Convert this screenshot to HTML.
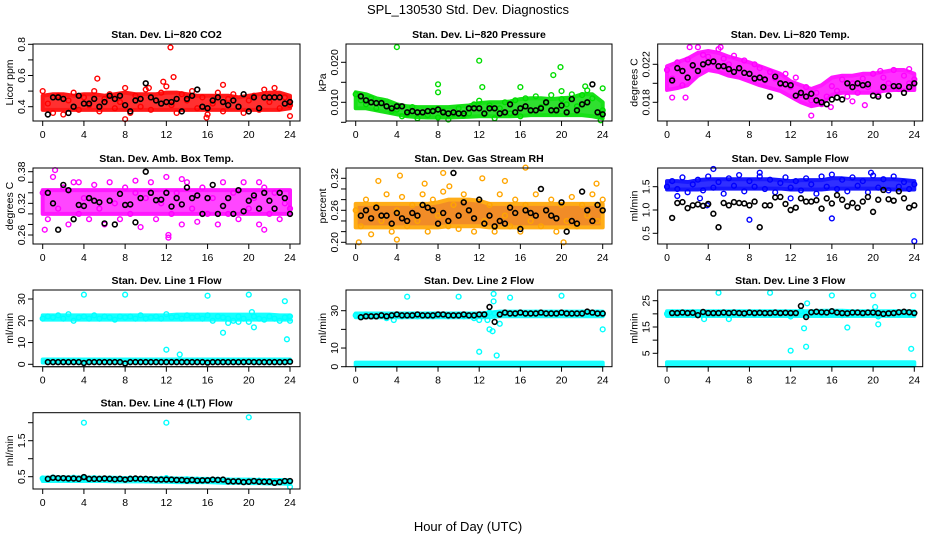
<!DOCTYPE html>
<html><head><meta charset="utf-8"><style>
html,body{margin:0;padding:0;background:#fff;}
svg{display:block;font-family:"Liberation Sans",Arial,sans-serif;}
</style></head><body>
<svg id="chart" width="936" height="540" viewBox="0 0 936 540">
<text x="468" y="14" text-anchor="middle" font-size="13">SPL_130530  Std. Dev. Diagnostics</text>
<text x="468" y="531" text-anchor="middle" font-size="13">Hour of Day (UTC)</text>
</svg>
<script>
// ---- data ----
const bandHours = [0,1,2,3,4,5,6,7,8,9,10,11,12,13,14,15,16,17,18,19,20,21,22,23,24];
const co2Lo = [0.38,0.38,0.38,0.38,0.38,0.38,0.38,0.38,0.38,0.38,0.38,0.38,0.38,0.38,0.38,0.38,0.38,0.38,0.38,0.38,0.38,0.38,0.38,0.38,0.39];
const co2Hi = [0.47,0.48,0.48,0.47,0.48,0.48,0.47,0.48,0.49,0.48,0.48,0.48,0.49,0.49,0.48,0.47,0.47,0.47,0.47,0.46,0.47,0.48,0.49,0.49,0.47];
const co2Pts = [0.50,0.42,0.36,0.47,0.35,0.44,0.49,0.38,0.46,0.41,0.50,0.37,0.45,0.48,0.39,0.43,0.52,0.36,0.47,0.40,0.51,0.38,0.44,0.49,0.53,0.41,0.36,0.48,0.44,0.50,0.39,0.46,0.35,0.42,0.49,0.37,0.45,0.48,0.40,0.36,0.44,0.47,0.38,0.51,0.43,0.52,0.39,0.46,0.41];
const co2Out = [[5.3,0.58],[12.4,0.78],[12.7,0.59],[17.5,0.54],[8,0.32],[15.9,0.33],[24,0.34],[10.3,0.52],[11.7,0.56]];
const co2Blk = [0.35,0.46,0.46,0.45,0.36,0.40,0.47,0.42,0.42,0.45,0.40,0.43,0.47,0.45,0.47,0.41,0.37,0.44,0.45,0.55,0.46,0.44,0.42,0.43,0.43,0.45,0.37,0.45,0.47,0.51,0.40,0.39,0.44,0.46,0.43,0.41,0.44,0.40,0.48,0.37,0.46,0.39,0.46,0.46,0.46,0.46,0.42,0.43];

const prsLo = [0.0085,0.0085,0.0080,0.0075,0.0070,0.0065,0.0063,0.0062,0.0062,0.0062,0.0063,0.0064,0.0065,0.0065,0.0065,0.0065,0.0066,0.0068,0.0068,0.0068,0.0068,0.0068,0.0068,0.0065,0.0060];
const prsHi = [0.0125,0.0120,0.0110,0.0105,0.0095,0.0090,0.0088,0.0088,0.0088,0.0088,0.0090,0.0092,0.0098,0.0100,0.0100,0.0102,0.0108,0.0110,0.0110,0.0108,0.0110,0.0112,0.0120,0.0120,0.0100];
const prsPts = [0.0120,0.0105,0.0095,0.0110,0.0085,0.0100,0.0090,0.0078,0.0082,0.0065,0.0070,0.0088,0.0060,0.0075,0.0068,0.0080,0.0062,0.0078,0.0057,0.0070,0.0085,0.0067,0.0072,0.0095,0.0104,0.0070,0.0092,0.0060,0.0085,0.0100,0.0072,0.0105,0.0065,0.0110,0.0078,0.0115,0.0088,0.0098,0.0118,0.0082,0.0108,0.0095,0.0120,0.0090,0.0118,0.0130,0.0110,0.0075,0.0080];
const prsOut = [[4,0.0238],[12,0.0204],[8,0.0145],[8,0.0125],[12.3,0.0138],[16,0.0138],[19.2,0.0168],[19.9,0.0188],[20,0.0128],[22.3,0.014],[24,0.0135],[23.8,0.0055]];
const prsBlk = [0.0115,0.0105,0.0100,0.0098,0.0098,0.0090,0.0085,0.0090,0.0090,0.0075,0.0078,0.0075,0.0075,0.0078,0.0078,0.0082,0.0075,0.0072,0.0075,0.0072,0.0072,0.0085,0.0085,0.0085,0.0072,0.0085,0.0085,0.0072,0.0075,0.0095,0.0075,0.0085,0.0090,0.0080,0.0080,0.0085,0.0100,0.0080,0.0080,0.0092,0.0075,0.0108,0.0080,0.0095,0.0100,0.0145,0.0075,0.0070];

const tmpLo = [0.0193,0.0195,0.0198,0.0208,0.0214,0.0212,0.0208,0.0206,0.0202,0.0198,0.0195,0.0192,0.0186,0.0180,0.0176,0.0178,0.0188,0.0190,0.0190,0.0190,0.0190,0.0192,0.0193,0.0193,0.0193];
const tmpHi = [0.0218,0.0222,0.0226,0.0232,0.0234,0.0232,0.0228,0.0225,0.0222,0.0218,0.0214,0.0210,0.0202,0.0198,0.0194,0.0198,0.0206,0.0208,0.0208,0.0210,0.0210,0.0212,0.0214,0.0214,0.0210];
const tmpPts = [0.0214,0.0205,0.0222,0.0198,0.0225,0.0218,0.0238,0.0230,0.0228,0.0222,0.0236,0.0226,0.0220,0.0229,0.0215,0.0224,0.0210,0.0220,0.0216,0.0203,0.0212,0.0205,0.0199,0.0210,0.0196,0.0206,0.0188,0.0196,0.0182,0.0190,0.0178,0.0186,0.0197,0.0192,0.0204,0.0186,0.0200,0.0190,0.0205,0.0196,0.0210,0.0188,0.0206,0.0200,0.0214,0.0194,0.0208,0.0200,0.0204];
const tmpOut = [[0.5,0.0185],[1.8,0.0185],[2.2,0.0238],[5.2,0.0238],[14,0.0166],[15.9,0.0175],[19.2,0.0177],[18,0.0181],[20.7,0.0213],[23.5,0.0215]];
const tmpBlk = [0.0203,0.0216,0.0213,0.0206,0.0219,0.0213,0.0220,0.0222,0.0223,0.0218,0.0218,0.0215,0.0212,0.0216,0.0211,0.0210,0.0205,0.0206,0.0204,0.0186,0.0207,0.0200,0.0199,0.0198,0.0187,0.0190,0.0186,0.0189,0.0182,0.0180,0.0178,0.0183,0.0185,0.0183,0.0200,0.0196,0.0200,0.0198,0.0199,0.0187,0.0186,0.0196,0.0187,0.0197,0.0197,0.0190,0.0196,0.0200];

const ambLo = [0.30,0.30,0.30,0.30,0.30,0.30,0.30,0.30,0.30,0.30,0.30,0.30,0.30,0.30,0.30,0.30,0.30,0.30,0.30,0.30,0.30,0.30,0.30,0.30,0.30];
const ambHi = [0.345,0.345,0.345,0.345,0.345,0.345,0.345,0.345,0.345,0.345,0.345,0.345,0.345,0.345,0.345,0.345,0.345,0.345,0.345,0.345,0.345,0.345,0.345,0.345,0.345];
const ambPts = [0.34,0.29,0.37,0.31,0.35,0.28,0.36,0.30,0.33,0.29,0.355,0.31,0.28,0.36,0.32,0.29,0.35,0.30,0.34,0.275,0.33,0.36,0.29,0.32,0.37,0.30,0.34,0.28,0.36,0.31,0.285,0.35,0.30,0.33,0.28,0.36,0.30,0.34,0.29,0.36,0.31,0.33,0.28,0.35,0.30,0.34,0.29,0.32,0.31];
const ambOut = [[0.2,0.27],[1.2,0.383],[12.2,0.26],[12.2,0.255],[21.5,0.27],[21,0.36],[3.5,0.36],[9,0.363],[13.5,0.366]];
const ambBlk = [0.34,0.32,0.27,0.355,0.345,0.29,0.317,0.315,0.33,0.325,0.322,0.282,0.325,0.28,0.338,0.317,0.318,0.284,0.33,0.38,0.34,0.326,0.327,0.34,0.314,0.33,0.318,0.35,0.33,0.335,0.30,0.33,0.355,0.30,0.315,0.33,0.30,0.345,0.305,0.325,0.335,0.31,0.34,0.325,0.31,0.34,0.33,0.30];

const rhLo = [0.228,0.228,0.228,0.228,0.228,0.228,0.228,0.228,0.228,0.23,0.23,0.23,0.23,0.228,0.228,0.228,0.228,0.228,0.228,0.228,0.228,0.228,0.228,0.228,0.228];
const rhHi = [0.272,0.272,0.272,0.272,0.272,0.272,0.272,0.272,0.275,0.28,0.28,0.28,0.278,0.272,0.272,0.272,0.272,0.272,0.272,0.272,0.272,0.272,0.272,0.272,0.272];
const rhPts = [0.26,0.23,0.28,0.215,0.27,0.24,0.29,0.22,0.26,0.285,0.23,0.27,0.24,0.29,0.22,0.28,0.25,0.295,0.23,0.27,0.225,0.29,0.26,0.22,0.28,0.24,0.27,0.22,0.29,0.25,0.23,0.28,0.22,0.27,0.24,0.29,0.23,0.26,0.28,0.22,0.27,0.24,0.285,0.23,0.27,0.25,0.29,0.24,0.28];
const rhOut = [[2.2,0.315],[4.3,0.325],[6.7,0.31],[8.5,0.33],[12.3,0.32],[16.5,0.34],[14.5,0.315],[23.4,0.31],[0.3,0.20],[4,0.205],[20.2,0.20],[9.1,0.305]];
const rhBlk = [0.25,0.26,0.245,0.265,0.25,0.25,0.235,0.255,0.245,0.24,0.255,0.25,0.27,0.265,0.26,0.235,0.255,0.24,0.33,0.25,0.275,0.26,0.245,0.28,0.235,0.25,0.23,0.24,0.235,0.265,0.255,0.225,0.26,0.255,0.25,0.30,0.26,0.25,0.245,0.275,0.22,0.24,0.235,0.295,0.26,0.24,0.27,0.26];

const sfLo = [1.44,1.44,1.44,1.44,1.46,1.46,1.46,1.46,1.46,1.46,1.46,1.46,1.44,1.44,1.44,1.44,1.46,1.46,1.46,1.46,1.46,1.46,1.44,1.44,1.44];
const sfHi = [1.62,1.62,1.60,1.64,1.66,1.66,1.66,1.66,1.66,1.66,1.66,1.64,1.62,1.64,1.64,1.64,1.68,1.68,1.66,1.66,1.66,1.66,1.66,1.64,1.62];
const sfPts = [1.50,1.62,1.45,1.70,1.38,1.55,1.65,1.42,1.72,1.48,1.60,1.35,1.68,1.52,1.75,1.40,1.62,1.50,1.72,1.45,1.65,1.38,1.58,1.70,1.48,1.62,1.42,1.68,1.55,1.35,1.72,1.50,1.76,1.45,1.65,1.40,1.70,1.52,1.62,1.38,1.74,1.48,1.66,1.42,1.72,1.50,1.60,1.45,1.55];
const sfOut = [[3.9,1.1],[8,0.79],[16,0.82],[24,0.33],[4.5,1.88],[9,1.8],[19.8,1.8],[12,1.25],[3.2,1.25],[1,1.3]];
const sfBlk = [0.83,1.15,1.17,1.04,1.10,1.12,1.09,1.13,0.92,0.63,1.15,1.10,1.17,1.15,1.14,1.10,1.18,0.63,1.10,1.10,1.27,1.28,1.13,1.00,1.05,1.25,1.18,1.18,1.21,1.03,1.25,1.14,1.32,1.22,1.08,1.15,1.05,1.18,1.28,0.96,1.22,1.43,1.23,1.20,1.40,1.25,1.05,1.10];

const l1Lo = [20.5,20.5,20.5,20.5,20.5,20.5,20.5,20.5,20.5,20.5,20.5,20.5,20.5,20.5,20.5,20.5,20.5,20.5,20.5,20.5,20.5,20.5,20.5,20.5,20.5];
const l1Hi = [22.5,22.5,22.5,22.5,22.5,22.5,22.5,22.5,22.5,22.5,22.5,22.5,22.5,22.8,22.8,22.8,22.8,22.8,22.8,22.8,22.8,22.8,22.8,22.5,22.5];
const l1LowLo = [0.8,0.8,0.8,0.8,0.8,0.8,0.8,0.8,0.8,0.8,0.8,0.8,0.8,0.8,0.8,0.8,0.8,0.8,0.8,0.8,0.8,0.8,0.8,0.8,0.8];
const l1LowHi = [2.2,2.2,2.2,2.2,2.2,2.2,2.2,2.2,2.2,2.2,2.2,2.2,2.2,2.2,2.2,2.2,2.2,2.2,2.2,2.2,2.2,2.2,2.2,2.2,2.2];
const l1Pts = [21,22,21.5,22.5,21,23,20,21.5,22,21,22.5,21,22,21.5,20.5,22,21.5,22,21,22.5,21,21.5,22,21,23,21.5,22,21,22.5,21.5,22,21,22.5,20,22,21.5,21,20,22,21,19.5,22,21,20.5,22,21,20,21.5,22];
const l1Out = [[4,32],[8,32],[16,31.5],[20,32],[23.5,29],[23.7,11.5],[12,6.7],[13.3,4.5],[17.5,14.5],[20.5,17],[20.3,24],[24,20],[18,19],[19,19.5]];
const l1Blk = [1,1,1,1,1,1,1,0.6,1,1,1,1,1,1,1,0.4,1,1,1,1,1,1,1,1,1,1,1,1,1,1,1,0.8,1,1,1,1,1,1,1,1.1,1,1,1,1,1,1,1,1.2];

const l2Lo = [26.5,26.5,26.5,26.5,26.5,26.5,26.5,26.5,26.5,26.5,26.5,26.5,26.5,26.5,27,27,27,27,27,27,27,27,27,27,27];
const l2Hi = [28.5,28.5,28.5,28.5,28.5,28.5,28.5,28.5,28.5,28.5,28.5,28.5,28.5,29,29.5,29.5,29.5,29.5,29.5,29.5,29.5,29.5,29.5,29.5,29.5];
const l2LowLo = [0.5,0.5,0.5,0.5,0.5,0.5,0.5,0.5,0.5,0.5,0.5,0.5,0.5,0.5,0.5,0.5,0.5,0.5,0.5,0.5,0.5,0.5,0.5,0.5,0.5];
const l2LowHi = [2.2,2.2,2.2,2.2,2.2,2.2,2.2,2.2,2.2,2.2,2.2,2.2,2.2,2.2,2.2,2.2,2.2,2.2,2.2,2.2,2.2,2.2,2.2,2.2,2.2];
const l2Pts = [27.5,27,28,27.5,27,28,26,27.5,28,27,27.5,28,27,27.5,28,27,27.5,28,27,27.5,28,27,27.5,26,25,28,29,28.5,28,29,28.5,28,29,28,28.5,29,28,28.5,29,28,28.5,29,28,28.5,29,28,28.5,29,28];
const l2Out = [[5,37.5],[10,37.5],[13.4,39],[13.4,35],[15,37],[20,38],[24,20],[12,8],[13.7,6],[13,20],[13.3,19],[14,23],[3.7,25],[12.8,25]];
const l2Blk = [26.5,27,27,27,27.5,27,27.5,28,27.5,27.5,27.5,28,27.5,27.5,27.5,28,28,27.5,27.5,27.5,28,27.5,27.5,28,28,32,24,28,29,28.5,28.5,29,28.5,28.5,28.5,29,28.5,28.5,28.5,29,28.5,28.5,28.5,28.5,29.5,29,28.5,28.5];

const l3Lo = [19.2,19.2,19.2,19.2,19.2,19.2,19.2,19.2,19.2,19.2,19.2,19.2,19.2,19.2,19.2,19.2,19.2,19.2,19.2,19.2,19.2,19.2,19.2,19.2,19.2];
const l3Hi = [21,21,21,21,21,21,21,21,21,21,21,21,21,21,21,21.2,21.2,21.2,21,21,21,21,21,21,21];
const l3LowLo = [0.3,0.3,0.3,0.3,0.3,0.3,0.3,0.3,0.3,0.3,0.3,0.3,0.3,0.3,0.3,0.3,0.3,0.3,0.3,0.3,0.3,0.3,0.3,0.3,0.3];
const l3LowHi = [1.6,1.6,1.6,1.6,1.6,1.6,1.6,1.6,1.6,1.6,1.6,1.6,1.6,1.6,1.6,1.6,1.6,1.6,1.6,1.6,1.6,1.6,1.6,1.6,1.6];
const l3Pts = [20,20.5,19.8,20.2,20,19.5,20.5,20,20.2,19.8,20.4,20,20.2,19.8,20.5,20,20.3,19.8,20.2,20,20.5,19.6,20,20.4,19,20.5,21,20,20.5,20.2,19.8,20.5,20,20.3,19.5,20.5,20,20.2,19.8,20.5,20,19,20.3,20,20.5,19.8,20.2,20,20.3];
const l3Out = [[5,28],[10,28],[20,27],[23.9,27],[16,27],[12,6],[13.3,14.5],[13.5,7.5],[13.6,24],[17.5,14.8],[20.2,22.6],[20.5,16],[23.7,6.7],[3.6,18],[6,18]];
const l3Blk = [20.3,20.3,20.5,20.3,20.4,19.5,20.7,20.3,20.3,20.3,20.5,20.3,20.5,20.3,20.2,20.5,20.3,20.4,20.3,20.3,20.5,20.3,20.4,20.3,20.3,23,18.8,20.6,20.8,20.6,20.5,21,20.5,20.3,20.2,20.5,20.5,20.3,20.5,20.5,20.3,20,20.2,20.3,20.6,20.8,20.6,20.3];

const l4Lo = [0.38,0.38,0.38,0.38,0.38,0.38,0.38,0.37,0.37,0.37,0.37,0.36,0.36,0.35,0.35,0.35,0.35,0.34,0.33,0.33,0.32,0.32,0.31,0.31,0.30];
const l4Hi = [0.47,0.48,0.48,0.48,0.48,0.47,0.47,0.47,0.46,0.46,0.46,0.45,0.46,0.45,0.45,0.44,0.44,0.43,0.42,0.42,0.42,0.41,0.41,0.41,0.40];
const l4Pts = [0.45,0.42,0.48,0.44,0.46,0.41,0.47,0.43,0.45,0.42,0.46,0.44,0.42,0.45,0.43,0.44,0.41,0.45,0.42,0.44,0.40,0.43,0.41,0.44,0.46,0.40,0.42,0.38,0.43,0.40,0.42,0.38,0.41,0.39,0.42,0.37,0.40,0.36,0.39,0.35,0.38,0.36,0.39,0.35,0.37,0.34,0.38,0.35,0.36];
const l4Out = [[4,2.0],[12,2.0],[20,2.15],[24,0.22]];
const l4Blk = [0.44,0.47,0.46,0.46,0.45,0.45,0.44,0.49,0.44,0.44,0.44,0.45,0.44,0.43,0.44,0.42,0.44,0.45,0.44,0.44,0.43,0.42,0.42,0.42,0.42,0.41,0.41,0.39,0.41,0.39,0.40,0.40,0.42,0.41,0.42,0.37,0.37,0.37,0.35,0.36,0.38,0.36,0.36,0.36,0.33,0.35,0.38,0.38];

const xTicks = [0,4,8,12,16,20,24];
const xTickLabels = ["0","4","8","12","16","20","24"];

// ---- layout (non-data) ----
const cols = [{l:33,r:300,x0:42.7,x24:290},{l:346,r:612,x0:355.7,x24:602.7},{l:657.7,r:922.7,x0:667,x24:914.3}];
const rows = [{t:44,b:121},{t:168,b:244},{t:290,b:366.7},{t:412.7,b:489}];

const panels = [
 {name:"li820-co2",title:"Stan. Dev. Li\u2212820 CO2",ylab:"Licor ppm",c:0,r:0,v0:0.4,p0:106.7,v1:0.8,p1:44.3,ticks:[0.4,0.5,0.6,0.7,0.8],labs:["0.4","","0.6","","0.8"],col:"#ff0000",fill:"#ff1a1a",lo:co2Lo,hi:co2Hi,pts:co2Pts,out:co2Out,blk:co2Blk},
 {name:"li820-pressure",title:"Stan. Dev. Li\u2212820 Pressure",ylab:"kPa",c:1,r:0,v0:0.010,p0:102.3,v1:0.020,p1:62.3,ticks:[0.005,0.010,0.015,0.020],labs:["","0.010","","0.020"],col:"#00dd00",fill:"#1add1a",lo:prsLo,hi:prsHi,pts:prsPts,out:prsOut,blk:prsBlk},
 {name:"li820-temp",title:"Stan. Dev. Li\u2212820 Temp.",ylab:"degrees C",c:2,r:0,v0:0.018,p0:102.3,v1:0.022,p1:64.3,ticks:[0.018,0.020,0.022],labs:["0.018","","0.022"],col:"#ff00ff",fill:"#ff1aff",lo:tmpLo,hi:tmpHi,pts:tmpPts,out:tmpOut,blk:tmpBlk},
 {name:"amb-box-temp",title:"Stan. Dev. Amb. Box Temp.",ylab:"degrees C",c:0,r:1,v0:0.26,p0:235,v1:0.38,p1:171.7,ticks:[0.26,0.28,0.30,0.32,0.34,0.36,0.38],labs:["0.26","","","0.32","","","0.38"],col:"#ff00ff",fill:"#ff33ff",lo:ambLo,hi:ambHi,pts:ambPts,out:ambOut,blk:ambBlk},
 {name:"gas-stream-rh",title:"Stan. Dev. Gas Stream RH",ylab:"percent",c:1,r:1,v0:0.20,p0:242.3,v1:0.32,p1:178.3,ticks:[0.20,0.22,0.24,0.26,0.28,0.30,0.32],labs:["0.20","","","0.26","","","0.32"],col:"#ffa500",fill:"#f08010",lo:rhLo,hi:rhHi,pts:rhPts,out:rhOut,blk:rhBlk},
 {name:"sample-flow",title:"Stan. Dev. Sample Flow",ylab:"ml/min",c:2,r:1,v0:1.0,p0:210,v1:1.5,p1:186.7,ticks:[0.5,1.0,1.5],labs:["0.5","1.0","1.5"],col:"#0000ff",fill:"#1a1aff",lo:sfLo,hi:sfHi,pts:sfPts,out:sfOut,blk:sfBlk},
 {name:"line1-flow",title:"Stan. Dev. Line 1 Flow",ylab:"ml/min",c:0,r:2,v0:0,p0:364.3,v1:30,p1:299,ticks:[0,10,20,30],labs:["0","10","20","30"],col:"#00ffff",fill:"#00ffff",lo:l1Lo,hi:l1Hi,lo2:l1LowLo,hi2:l1LowHi,pts:l1Pts,out:l1Out,blk:l1Blk},
 {name:"line2-flow",title:"Stan. Dev. Line 2 Flow",ylab:"ml/min",c:1,r:2,v0:0,p0:366.7,v1:30,p1:310.7,ticks:[0,10,20,30],labs:["0","10","","30"],col:"#00ffff",fill:"#00ffff",lo:l2Lo,hi:l2Hi,lo2:l2LowLo,hi2:l2LowHi,pts:l2Pts,out:l2Out,blk:l2Blk},
 {name:"line3-flow",title:"Stan. Dev. Line 3 Flow",ylab:"ml/min",c:2,r:2,v0:5,p0:353.3,v1:25,p1:300.7,ticks:[5,10,15,20,25],labs:["5","","15","","25"],col:"#00ffff",fill:"#00ffff",lo:l3Lo,hi:l3Hi,lo2:l3LowLo,hi2:l3LowHi,pts:l3Pts,out:l3Out,blk:l3Blk},
 {name:"line4-flow",title:"Stan. Dev. Line 4 (LT) Flow",ylab:"ml/min",c:0,r:3,v0:0.5,p0:476.7,v1:1.5,p1:440.7,ticks:[0.5,1.0,1.5,2.0],labs:["0.5","","1.5",""],col:"#00ffff",fill:"#00ffff",lo:l4Lo,hi:l4Hi,pts:l4Pts,out:l4Out,blk:l4Blk}
];

const NS = "http://www.w3.org/2000/svg";
const svg = document.getElementById("chart");
function mk(tag, attrs, parent){
  const e = document.createElementNS(NS, tag);
  for (const k in attrs) e.setAttribute(k, attrs[k]);
  (parent||svg).appendChild(e);
  return e;
}

panels.forEach(p => {
  const C = cols[p.c], R = rows[p.r];
  const xs = h => C.x0 + (C.x24 - C.x0) * h / 24;
  const ys = v => p.p0 + (p.p1 - p.p0) * (v - p.v0) / (p.v1 - p.v0);
  const g = mk("g", {});
  
  

  const t = mk("text", {x:(C.l+C.r)/2, y:R.t-6, "text-anchor":"middle", "font-size":"10.5", "font-weight":"bold"}, g);
  t.textContent = p.title;
  
  

  const yt = mk("text", {x:0, y:0, "text-anchor":"middle", "font-size":"10.5", transform:`translate(${C.l-20},${(R.t+R.b)/2}) rotate(-90)`}, g);
  yt.textContent = p.ylab;
  
  

  const addBand = (lo, hi, nm) => {
    let pts = bandHours.map((h,i) => `${xs(h)},${ys(hi[i])}`);
    for (let i = bandHours.length-1; i >= 0; i--) pts.push(`${xs(bandHours[i])},${ys(lo[i])}`);
    const b = mk("polygon", {points:pts.join(" "), fill:p.fill, stroke:p.col, "stroke-width":"4", "stroke-linejoin":"round", opacity:"0.9"}, g);
    
    
  };
  addBand(p.lo, p.hi, p.name + '-density-band');
  if (p.lo2) addBand(p.lo2, p.hi2, p.name + '-low-band');

  p.pts.forEach((v,i) => {
    const c = mk("circle", {cx:xs(i*0.5), cy:ys(v), r:2.4, fill:"none", stroke:p.col, "stroke-width":"1.4"}, g);
    
    
  });
  p.out.forEach(o => {
    const c = mk("circle", {cx:xs(o[0]), cy:ys(o[1]), r:2.4, fill:"none", stroke:p.col, "stroke-width":"1.4"}, g);
    
    
  });
  p.blk.forEach((v,i) => {
    const c = mk("circle", {cx:xs(0.5 + i*0.5), cy:ys(v), r:2.4, fill:"none", stroke:"#000", "stroke-width":"1.6"}, g);
    
    
  });

  const bx = mk("rect", {x:C.l, y:R.t, width:C.r-C.l, height:R.b-R.t, fill:"none", stroke:"#000", "stroke-width":"1"}, g);
  
  

  const xa = mk("line", {x1:xs(0), x2:xs(24), y1:R.b, y2:R.b, stroke:"#000"}, g);
  
  
  xTicks.forEach((h,i) => {
    mk("line", {x1:xs(h), x2:xs(h), y1:R.b, y2:R.b+5, stroke:"#000"}, g);
    const l = mk("text", {x:xs(h), y:R.b+17, "text-anchor":"middle", "font-size":"10.5"}, g);
    l.textContent = xTickLabels[i];
    
    
  });
  const ya = mk("line", {x1:C.l, x2:C.l, y1:ys(p.ticks[0]), y2:ys(p.ticks[p.ticks.length-1]), stroke:"#000"}, g);
  
  
  p.ticks.forEach((v,i) => {
    mk("line", {x1:C.l-5, x2:C.l, y1:ys(v), y2:ys(v), stroke:"#000"}, g);
    if (p.labs[i]) {
      const l = mk("text", {x:0, y:0, "text-anchor":"middle", "font-size":"10.5", transform:`translate(${C.l-8},${ys(v)}) rotate(-90)`}, g);
      l.textContent = p.labs[i];
      
      
    }
  });
});
</script>
</body></html>
